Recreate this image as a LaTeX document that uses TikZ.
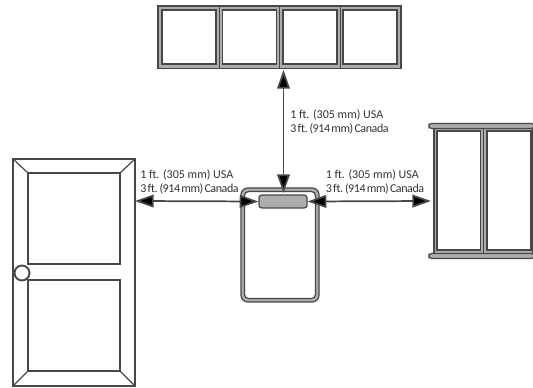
\documentclass[tikz,border=0pt]{standalone}
\usepackage{fontspec}
\setmainfont{Carlito}
\newfontfamily\tightfont[LetterSpace=-3.5]{Carlito}
\usetikzlibrary{arrows.meta}
\definecolor{ln}{gray}{0.28}
\definecolor{mid}{gray}{0.68}
\newcommand{\lineA}{1 ft. (305 mm) USA}
\newcommand{\lineB}{{\tightfont\spaceskip=0.1em 3 ft. (914 mm) Canada}}
\tikzset{
 x=0.75pt,y=-0.75pt,
 door/.style={draw=ln,line width=1.4pt,fill=white},
 doorthin/.style={draw=ln,line width=0.9pt},
 frameouter/.style={draw=ln,line width=0.9pt,fill=mid},
 pane/.style={draw=ln,line width=0.9pt,fill=white},
 mull/.style={draw=ln,line width=0.6pt},
 bigarrow/.style={draw=ln,line width=1.3pt,{Triangle[length=14pt,width=9.5pt,fill=black]}-{Triangle[length=14pt,width=9.5pt,fill=black]}},
 lab/.style={font=\fontsize{9pt}{10.2pt}\selectfont,align=left,anchor=north west,inner sep=0pt,text=black!80}
}
\begin{document}
\begin{tikzpicture}
\useasboundingbox[fill=white] (0,0) rectangle (533,388);
% door
\draw[door] (13,159) rectangle (135,386);
\draw[door] (28,173) rectangle (120,264);
\draw[door] (28,280) rectangle (120,371);
\foreach \a/\b in {13/28,135/120}{
 \draw[doorthin] (\a,159) -- (\b,173);
 \draw[doorthin] (\a,386) -- (\b,371);
}
\draw[door] (22,273) circle (7.5);
\coordinate (doorr) at (135,201);
% top window
\draw[frameouter] (158,6) rectangle (401,68.5);
\foreach \a in {219.3,279.8,340}{
 \draw[mull] (\a,6) -- (\a,68.5);
}
\foreach \a in {162,222.5,283,343}{
 \draw[pane] (\a,10) rectangle ++(54,54);
}
\coordinate (winb) at (283.5,70);
% thermostat
\draw[draw=ln,line width=0.9pt,fill=mid,rounded corners=5pt] (241,188) rectangle (319,302);
\draw[draw=ln,line width=0.9pt,fill=white,rounded corners=3pt] (244.5,191.5) rectangle (315.5,298.5);
\node[draw=ln,line width=0.9pt,fill=mid,rounded corners=2pt,minimum width=36pt,minimum height=9.7pt,inner sep=0pt] (bar) at (283,201.5) {};
\coordinate (bart) at (283.5,193);
% right window
\draw[frameouter] (434,126) rectangle (533,256);
\draw[mull] (483.8,126) -- (483.8,256);
\draw[pane] (437,131) rectangle (480.5,250);
\draw[pane] (487,131) rectangle (531,250);
\draw[draw=ln,line width=0.9pt,fill=mid,rounded corners=2pt] (429,123.5) rectangle (534,128.5);
\draw[draw=ln,line width=0.9pt,fill=mid,rounded corners=2pt] (429,253.5) rectangle (534,258.5);
\coordinate (winl) at (431,201);
% arrows
\draw[bigarrow] (doorr) -- (bar.west);
\draw[bigarrow] (bar.east) -- (winl);
\draw[bigarrow] (winb) -- (bart);
% labels
\node[lab] (l1) at (140,169.5) {\lineA\\\lineB};
\node[lab] (l2) at (290,109.5) {\lineA\\\lineB};
\node[lab] (l3) at (325.5,169.5) {\lineA\\\lineB};
\end{tikzpicture}
\end{document}
